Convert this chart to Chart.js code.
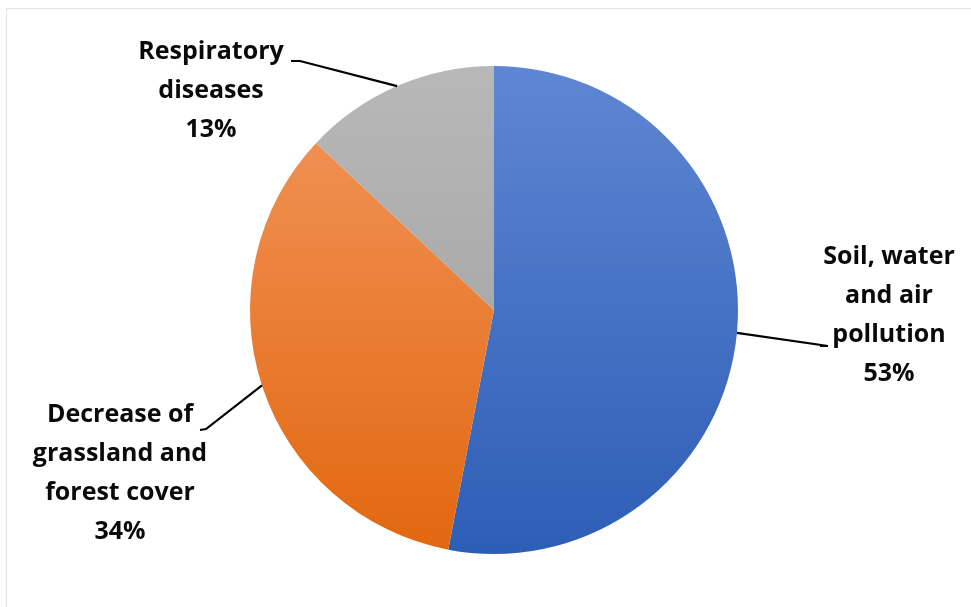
<!DOCTYPE html>
<html>
<head>
<meta charset="utf-8">
<script src="https://cdn.jsdelivr.net/npm/chart.js@4/dist/chart.umd.min.js"></script>
<style>
  html, body { margin: 0; padding: 0; background: #ffffff; }
  #frame {
    position: absolute; left: 6px; top: 8px; width: 980px; height: 620px;
    border-top: 1px solid #dfe3e8; border-left: 1px solid #dfe3e8;
  }
  #wrap { position: absolute; left: 0; top: 0; width: 971px; height: 607px; }
</style>
</head>
<body>
<div id="frame"></div>
<div id="wrap"><canvas id="c" width="971" height="607"></canvas></div>
<script>
// Causes and their shares (percent)
const categories = [
  ["Soil, water", "and air", "pollution"],
  ["Decrease of", "grassland and", "forest cover"],
  ["Respiratory", "diseases"]
];
const shares = [53, 34, 13];

// Vertical shading per slice: [top colour, bottom colour]
const sliceShades = [
  ["#5f86d2", "#2d5eb6"],
  ["#f2975f", "#e2670f"],
  ["#b8b8b8", "#9c9c9c"]
];

// Where each callout's text block sits (centre x, first baseline y) and where its leader ends
const callouts = [
  { cx: 889, y: 264, elbow: [828, 346], tick: [820, 346] },
  { cx: 120, y: 422, elbow: [206, 429], tick: [200, 430] },
  { cx: 211, y: 59,  elbow: [300, 61],  tick: [291, 61] }
];

const calloutPlugin = {
  id: 'callouts',
  afterDatasetsDraw(chart) {
    const ctx = chart.ctx;
    const meta = chart.getDatasetMeta(0);
    ctx.save();
    meta.data.forEach((arc, i) => {
      const mid = (arc.startAngle + arc.endAngle) / 2;
      const px = arc.x + Math.cos(mid) * arc.outerRadius;
      const py = arc.y + Math.sin(mid) * arc.outerRadius;
      const c = callouts[i];
      ctx.strokeStyle = '#000000';
      ctx.lineWidth = 2.2;
      ctx.beginPath();
      ctx.moveTo(px, py);
      ctx.lineTo(c.elbow[0], c.elbow[1]);
      ctx.lineTo(c.tick[0], c.tick[1]);
      ctx.stroke();

      const lines = categories[i].concat([shares[i] + '%']);
      ctx.fillStyle = '#0a0a0a';
      ctx.font = 'bold 25px "Open Sans", Lato, sans-serif';
      ctx.textAlign = 'center';
      ctx.textBaseline = 'alphabetic';
      lines.forEach((t, k) => ctx.fillText(t, c.cx, c.y + k * 39));
    });
    ctx.restore();
  }
};

new Chart(document.getElementById('c'), {
  type: 'pie',
  data: {
    labels: categories.map(l => l.join(' ')),
    datasets: [{
      data: shares,
      borderWidth: 0,
      backgroundColor(context) {
        const chart = context.chart;
        const area = chart.chartArea;
        if (!area) return sliceShades[context.dataIndex][0];
        const g = chart.ctx.createLinearGradient(0, area.top, 0, area.bottom);
        const s = sliceShades[context.dataIndex];
        g.addColorStop(0, s[0]);
        g.addColorStop(1, s[1]);
        return g;
      }
    }]
  },
  options: {
    responsive: false,
    animation: false,
    layout: { padding: { left: 250, right: 233, top: 66, bottom: 53 } },
    plugins: {
      legend: { display: false },
      tooltip: { enabled: false }
    }
  },
  plugins: [calloutPlugin]
});
</script>
</body>
</html>
